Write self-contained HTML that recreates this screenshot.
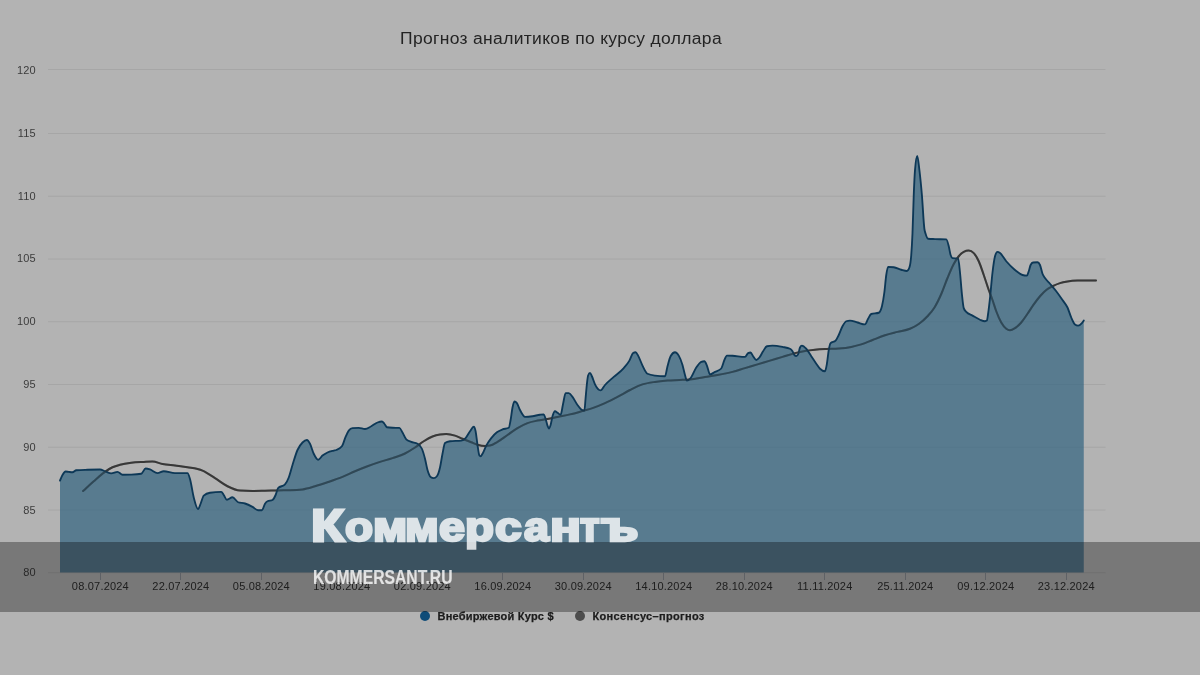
<!DOCTYPE html>
<html><head><meta charset="utf-8">
<style>
html,body{margin:0;padding:0;}
body{width:1200px;height:675px;overflow:hidden;background:#b3b3b3;font-family:"Liberation Sans",sans-serif;position:relative;}
svg{position:absolute;left:0;top:0;}
.yl{position:absolute;right:1164.3px;font-size:11px;color:#3c3c3c;filter:grayscale(1);line-height:12px;height:12px;letter-spacing:0.1px;white-space:nowrap;}
.xl{filter:grayscale(1);position:absolute;top:580px;width:80px;margin-left:-40px;text-align:center;font-size:11px;color:#2e2e2e;line-height:12px;letter-spacing:0.2px;white-space:nowrap;}
.title{filter:grayscale(1);position:absolute;left:261px;width:600px;top:29px;text-align:center;font-size:16px;line-height:20px;color:#242424;letter-spacing:0.3px;transform:scaleX(1.092);white-space:nowrap;}
.banner{position:absolute;left:0;top:542px;width:1200px;height:70px;background:rgba(0,0,0,0.33);}
.leg{filter:grayscale(1);position:absolute;top:610px;font-size:11px;font-weight:bold;line-height:12px;color:#1c1c1c;white-space:nowrap;-webkit-text-stroke:0.25px #1c1c1c;}
.logo{position:absolute;left:0;top:0;width:1200px;height:675px;opacity:0.8;}
.logo span{position:absolute;top:499.01px;font-size:45.5px;line-height:54px;font-weight:bold;color:#fff;white-space:nowrap;transform-origin:0 43.59px;-webkit-text-stroke:2.8px #fff;}
.site{position:absolute;left:313.3px;top:566px;font-size:19.5px;line-height:22px;font-weight:bold;color:#fff;opacity:0.8;white-space:nowrap;transform-origin:0 0;transform:scaleX(0.805);-webkit-text-stroke:0.15px #fff;}
</style></head><body>
<svg width="1200" height="675" viewBox="0 0 1200 675">
<g stroke="#a6a6a6" stroke-width="1" fill="none">
<path d="M48 69.5H1105.5M48 133.5H1105.5M48 196.25H1105.5M48 259.0H1105.5M48 321.75H1105.5M48 384.5H1105.5M48 447.25H1105.5M48 510.0H1105.5M48 572.75H1105.5"/>
</g>
<g stroke="rgba(95,105,120,0.45)" stroke-width="1" fill="none">
<path d="M100.5 573v7M180.5 573v7M261.5 573v7M341.5 573v7M422.5 573v7M502.5 573v7M583.5 573v7M663.5 573v7M744.5 573v7M824.5 573v7M905.5 573v7M985.5 573v7M1066.5 573v7"/>
</g>
<path fill="none" stroke="#383838" stroke-width="2" stroke-linejoin="round" stroke-linecap="round" d="M83.10 491.00C86.65 487.75 90.20 484.35 93.75 481.25C97.50 477.97 101.25 474.54 105.00 471.90C107.50 470.14 110.00 468.44 112.50 467.25C115.00 466.06 117.50 465.43 120.00 464.75C123.75 463.73 127.50 463.22 131.25 462.75C135.42 462.23 139.58 462.13 143.75 461.90C146.67 461.74 149.58 461.50 152.50 461.50C155.83 461.50 159.17 463.35 162.50 464.00C166.67 464.82 170.83 465.06 175.00 465.60C179.17 466.14 183.33 466.53 187.50 467.25C192.50 468.12 197.50 468.46 202.50 470.60C206.67 472.39 210.83 475.49 215.00 478.10C219.17 480.71 223.33 484.17 227.50 486.25C231.67 488.33 235.83 490.33 240.00 490.60C244.17 490.87 248.33 491.00 252.50 491.00C256.67 491.00 260.83 490.85 265.00 490.75C269.17 490.65 273.33 490.48 277.50 490.40C281.67 490.32 285.83 490.35 290.00 490.25C294.17 490.15 298.33 489.97 302.50 489.40C306.67 488.83 310.83 487.44 315.00 486.25C319.17 485.06 323.33 483.65 327.50 482.25C332.50 480.57 337.50 478.94 342.50 476.90C346.67 475.20 350.83 473.02 355.00 471.25C359.17 469.48 363.33 467.81 367.50 466.25C371.67 464.69 375.83 463.26 380.00 461.90C384.17 460.54 388.33 459.50 392.50 458.10C396.67 456.70 400.83 455.57 405.00 453.50C408.33 451.84 411.67 449.70 415.00 447.50C417.92 445.57 420.83 443.08 423.75 441.25C426.67 439.42 429.58 437.65 432.50 436.50C435.00 435.51 437.50 434.90 440.00 434.50C442.08 434.17 444.17 434.00 446.25 434.00C449.17 434.00 452.08 434.69 455.00 435.60C457.50 436.38 460.00 437.72 462.50 438.75C465.42 439.95 468.33 441.08 471.25 442.25C473.33 443.08 475.42 444.14 477.50 444.75C480.00 445.48 482.50 446.00 485.00 446.00C486.67 446.00 488.33 445.87 490.00 445.60C492.50 445.20 495.00 443.34 497.50 441.90C500.83 439.97 504.17 437.30 507.50 435.00C510.83 432.70 514.17 430.08 517.50 428.10C520.83 426.12 524.17 424.35 527.50 423.10C530.83 421.85 534.17 421.28 537.50 420.60C540.83 419.92 544.17 419.62 547.50 419.00C550.83 418.38 554.17 417.59 557.50 416.90C561.67 416.04 565.83 415.38 570.00 414.40C574.17 413.42 578.33 412.18 582.50 411.00C585.83 410.06 589.17 409.23 592.50 408.10C596.67 406.69 600.83 404.97 605.00 403.10C609.17 401.23 613.33 399.08 617.50 396.90C621.67 394.72 625.83 392.08 630.00 390.00C634.17 387.92 638.33 385.75 642.50 384.40C646.67 383.05 650.83 382.53 655.00 381.90C659.17 381.27 663.33 380.92 667.50 380.60C671.67 380.28 675.83 380.23 680.00 380.00C683.33 379.82 686.67 379.74 690.00 379.40C695.00 378.89 700.00 377.69 705.00 376.90C709.17 376.24 713.33 375.74 717.50 375.00C722.50 374.12 727.50 373.20 732.50 371.90C736.67 370.82 740.83 369.35 745.00 368.10C749.17 366.85 753.33 365.65 757.50 364.40C761.67 363.15 765.83 361.85 770.00 360.60C774.17 359.35 778.33 358.15 782.50 356.90C786.67 355.65 790.83 354.15 795.00 353.10C798.33 352.26 801.67 351.56 805.00 351.00C808.33 350.44 811.67 350.08 815.00 349.75C818.75 349.38 822.50 349.20 826.25 349.00C830.42 348.77 834.58 348.83 838.75 348.50C842.92 348.17 847.08 347.72 851.25 346.90C854.58 346.25 857.92 345.45 861.25 344.40C865.00 343.21 868.75 341.45 872.50 340.00C876.67 338.39 880.83 336.60 885.00 335.25C889.17 333.90 893.33 332.98 897.50 331.90C901.67 330.82 905.83 330.51 910.00 328.75C912.92 327.52 915.83 326.08 918.75 324.00C921.67 321.92 924.58 319.42 927.50 316.25C929.83 313.71 932.17 311.31 934.50 307.50C936.75 303.83 939.00 299.15 941.25 294.00C943.33 289.23 945.42 283.00 947.50 278.00C949.58 273.00 951.67 267.87 953.75 264.00C955.42 260.91 957.08 258.27 958.75 256.25C960.42 254.23 962.08 252.77 963.75 251.90C965.42 251.03 967.08 250.60 968.75 250.60C970.42 250.60 972.08 251.43 973.75 253.10C975.42 254.77 977.08 257.60 978.75 261.25C980.42 264.90 982.08 270.21 983.75 275.00C985.42 279.79 987.08 285.32 988.75 290.00C990.00 293.51 991.25 296.46 992.50 300.00C993.75 303.54 995.00 307.90 996.25 311.25C997.92 315.71 999.58 319.58 1001.25 322.50C1002.92 325.42 1004.58 327.49 1006.25 328.75C1007.50 329.70 1008.75 330.20 1010.00 330.20C1011.67 330.20 1013.33 329.15 1015.00 328.10C1017.08 326.78 1019.17 324.89 1021.25 322.50C1023.33 320.11 1025.42 316.77 1027.50 313.75C1029.58 310.73 1031.67 307.32 1033.75 304.40C1035.83 301.48 1037.92 298.65 1040.00 296.25C1042.08 293.85 1044.17 291.67 1046.25 290.00C1048.33 288.33 1050.42 287.33 1052.50 286.25C1055.00 284.95 1057.50 283.89 1060.00 283.10C1062.50 282.31 1065.00 281.90 1067.50 281.50C1070.83 280.97 1074.17 280.71 1077.50 280.60C1081.67 280.47 1085.83 280.40 1090.00 280.40C1092.00 280.40 1094.00 280.40 1096.00 280.40"/>
<path fill="rgba(40,94,125,0.65)" d="M60.00 480.60C60.83 478.73 61.67 476.45 62.50 475.00C63.53 473.20 64.57 471.50 65.60 471.50C66.65 471.50 67.70 471.78 68.75 471.90C70.00 472.04 71.25 472.25 72.50 472.25C73.75 472.25 75.00 470.36 76.25 470.25C80.00 469.92 83.75 469.87 87.50 469.75C91.67 469.61 95.83 469.50 100.00 469.50C101.67 469.50 103.33 470.67 105.00 471.25C107.08 471.97 109.17 473.40 111.25 473.40C113.33 473.40 115.42 471.90 117.50 471.90C119.17 471.90 120.83 474.75 122.50 474.75C125.42 474.75 128.33 474.70 131.25 474.60C134.58 474.49 137.92 474.32 141.25 473.75C142.70 473.50 144.15 468.50 145.60 468.50C147.07 468.50 148.53 468.94 150.00 469.40C152.50 470.18 155.00 473.10 157.50 473.10C159.58 473.10 161.67 471.25 163.75 471.25C167.50 471.25 171.25 473.10 175.00 473.10C179.17 473.10 183.33 473.10 187.50 473.10C188.33 473.10 189.17 476.18 190.00 479.00C191.25 483.24 192.50 492.65 193.75 497.50C195.20 503.13 196.65 509.10 198.10 509.10C198.93 509.10 199.77 505.70 200.60 503.75C201.65 501.30 202.70 496.56 203.75 495.60C205.83 493.70 207.92 493.06 210.00 492.75C213.75 492.18 217.50 491.90 221.25 491.90C222.08 491.90 222.92 493.87 223.75 495.00C224.80 496.43 225.85 499.75 226.90 499.75C228.77 499.75 230.63 497.25 232.50 497.25C234.37 497.25 236.23 501.57 238.10 502.25C240.40 503.08 242.70 502.78 245.00 503.50C247.50 504.28 250.00 505.56 252.50 506.90C254.37 507.90 256.23 510.25 258.10 510.25C259.37 510.25 260.63 510.25 261.90 510.25C262.93 510.25 263.97 505.29 265.00 503.75C265.83 502.51 266.67 501.67 267.50 501.25C269.17 500.42 270.83 500.83 272.50 500.00C273.53 499.48 274.57 497.32 275.60 495.00C276.43 493.13 277.27 488.99 278.10 488.10C280.40 485.63 282.70 486.87 285.00 484.40C286.25 483.06 287.50 480.73 288.75 477.50C290.00 474.27 291.25 468.99 292.50 465.00C294.17 459.68 295.83 453.75 297.50 450.00C299.17 446.25 300.83 444.17 302.50 442.50C303.97 441.03 305.43 440.00 306.90 440.00C307.93 440.00 308.97 441.82 310.00 443.75C311.25 446.09 312.50 451.16 313.75 453.75C315.20 456.75 316.65 459.75 318.10 459.75C319.57 459.75 321.03 456.76 322.50 455.60C324.17 454.28 325.83 453.30 327.50 452.50C329.58 451.50 331.67 451.14 333.75 450.60C334.58 450.38 335.42 450.31 336.25 450.00C338.13 449.30 340.02 448.75 341.90 446.25C343.13 444.61 344.37 439.67 345.60 436.90C346.65 434.55 347.70 432.00 348.75 430.60C350.00 428.93 351.25 428.18 352.50 428.10C354.58 427.97 356.67 427.90 358.75 427.90C360.83 427.90 362.92 429.00 365.00 429.00C367.08 429.00 369.17 427.33 371.25 426.25C373.33 425.17 375.42 423.29 377.50 422.50C378.97 421.94 380.43 421.50 381.90 421.50C382.73 421.50 383.57 422.79 384.40 423.75C385.23 424.71 386.07 427.10 386.90 427.25C388.77 427.58 390.63 427.67 392.50 427.75C394.80 427.85 397.10 427.80 399.40 427.90C400.43 427.94 401.47 430.80 402.50 432.50C403.75 434.56 405.00 438.15 406.25 439.40C407.92 441.07 409.58 441.22 411.25 441.90C413.33 442.75 415.42 442.52 417.50 443.75C418.97 444.62 420.43 445.42 421.90 448.75C422.93 451.10 423.97 454.69 425.00 458.75C425.83 462.03 426.67 467.10 427.50 470.00C428.53 473.60 429.57 476.11 430.60 476.90C431.65 477.70 432.70 478.10 433.75 478.10C434.80 478.10 435.85 477.48 436.90 476.25C437.93 475.04 438.97 471.95 440.00 467.50C440.83 463.91 441.67 457.82 442.50 453.75C443.33 449.68 444.17 443.72 445.00 443.10C446.67 441.87 448.33 441.44 450.00 441.25C453.75 440.82 457.50 441.03 461.25 440.60C462.70 440.43 464.15 439.64 465.60 438.10C467.07 436.54 468.53 433.25 470.00 431.25C471.25 429.54 472.50 426.75 473.75 426.75C474.37 426.75 474.98 428.24 475.60 431.20C476.23 434.24 476.87 440.95 477.50 445.00C478.13 449.05 478.77 454.71 479.40 455.50C479.80 456.00 480.20 456.25 480.60 456.25C481.23 456.25 481.87 454.77 482.50 453.75C483.75 451.74 485.00 447.96 486.25 445.60C487.92 442.46 489.58 440.24 491.25 438.10C493.13 435.69 495.02 433.70 496.90 432.25C498.77 430.81 500.63 430.13 502.50 429.40C504.58 428.58 506.67 428.85 508.75 427.75C509.37 427.42 509.98 423.31 510.60 420.00C511.23 416.60 511.87 410.58 512.50 407.50C513.13 404.42 513.77 401.50 514.40 401.50C515.23 401.50 516.07 402.03 516.90 403.10C517.93 404.42 518.97 408.03 520.00 410.00C521.67 413.17 523.33 416.90 525.00 416.90C527.50 416.90 530.00 416.61 532.50 416.25C535.00 415.89 537.50 415.07 540.00 414.75C541.25 414.59 542.50 414.40 543.75 414.40C544.37 414.40 544.98 416.92 545.60 418.75C546.23 420.63 546.87 423.91 547.50 425.60C548.00 426.94 548.50 428.50 549.00 428.50C549.53 428.50 550.07 426.76 550.60 425.00C551.23 422.91 551.87 418.45 552.50 416.25C553.33 413.35 554.17 411.25 555.00 411.25C555.83 411.25 556.67 412.23 557.50 412.75C558.53 413.39 559.57 414.75 560.60 414.75C561.43 414.75 562.27 407.36 563.10 403.75C563.93 400.14 564.77 393.10 565.60 393.10C566.65 393.10 567.70 393.10 568.75 393.10C570.00 393.10 571.25 395.31 572.50 396.90C574.17 399.02 575.83 402.73 577.50 405.00C578.75 406.71 580.00 408.53 581.25 409.40C582.30 410.13 583.35 410.50 584.40 410.50C584.80 410.50 585.20 402.23 585.60 398.00C586.03 393.41 586.47 387.84 586.90 384.00C587.30 380.46 587.70 376.59 588.10 375.50C588.73 373.77 589.37 372.90 590.00 372.90C590.63 372.90 591.27 374.92 591.90 376.25C592.93 378.41 593.97 382.26 595.00 384.40C596.87 388.27 598.73 390.40 600.60 390.40C602.07 390.40 603.53 386.65 605.00 385.00C607.92 381.71 610.83 379.54 613.75 376.90C617.08 373.89 620.42 371.99 623.75 368.10C625.63 365.90 627.52 363.90 629.40 360.60C630.63 358.44 631.87 353.94 633.10 353.10C633.93 352.53 634.77 352.25 635.60 352.25C636.43 352.25 637.27 354.20 638.10 355.60C639.57 358.06 641.03 362.71 642.50 365.60C644.17 368.89 645.83 372.93 647.50 373.75C650.00 374.98 652.50 375.28 655.00 375.60C658.33 376.03 661.67 376.25 665.00 376.25C665.83 376.25 666.67 369.30 667.50 366.25C668.53 362.47 669.57 358.13 670.60 356.25C672.07 353.58 673.53 352.25 675.00 352.25C676.25 352.25 677.50 353.48 678.75 355.60C680.00 357.73 681.25 360.75 682.50 365.00C683.33 367.84 684.17 372.17 685.00 375.00C685.63 377.15 686.27 380.60 686.90 380.60C688.13 380.60 689.37 379.52 690.60 378.10C692.48 375.93 694.37 370.28 696.25 367.50C697.92 365.04 699.58 362.59 701.25 361.90C702.30 361.47 703.35 361.25 704.40 361.25C705.23 361.25 706.07 363.74 706.90 365.60C707.93 367.90 708.97 374.40 710.00 374.40C711.67 374.40 713.33 372.77 715.00 371.90C717.08 370.82 719.17 370.77 721.25 368.50C722.30 367.36 723.35 362.28 724.40 360.00C725.23 358.19 726.07 355.60 726.90 355.60C728.77 355.60 730.63 355.66 732.50 355.75C736.67 355.95 740.83 356.90 745.00 356.90C746.03 356.90 747.07 353.60 748.10 353.10C748.93 352.70 749.77 352.50 750.60 352.50C751.43 352.50 752.27 355.11 753.10 356.25C754.15 357.68 755.20 360.00 756.25 360.00C757.30 360.00 758.35 358.77 759.40 357.50C760.63 356.01 761.87 353.11 763.10 351.25C764.37 349.34 765.63 346.54 766.90 346.25C768.77 345.82 770.63 345.60 772.50 345.60C775.83 345.60 779.17 346.24 782.50 346.90C785.00 347.39 787.50 347.52 790.00 348.75C790.83 349.16 791.67 349.96 792.50 351.25C793.13 352.23 793.77 354.32 794.40 355.00C795.02 355.67 795.63 356.00 796.25 356.00C796.87 356.00 797.48 355.47 798.10 354.40C798.73 353.30 799.37 348.77 800.00 347.50C800.63 346.23 801.27 345.60 801.90 345.60C803.35 345.60 804.80 347.18 806.25 348.75C807.92 350.56 809.58 353.75 811.25 356.25C812.92 358.75 814.58 361.41 816.25 363.75C817.50 365.51 818.75 367.53 820.00 368.75C821.67 370.38 823.33 371.25 825.00 371.25C825.63 371.25 826.27 367.37 826.90 363.75C827.52 360.23 828.13 353.44 828.75 350.00C829.37 346.56 829.98 343.72 830.60 343.10C832.27 341.43 833.93 342.27 835.60 340.60C836.65 339.55 837.70 337.13 838.75 335.00C840.00 332.46 841.25 328.54 842.50 326.25C843.75 323.96 845.00 321.68 846.25 321.25C847.50 320.82 848.75 320.60 850.00 320.60C852.50 320.60 855.00 321.87 857.50 322.50C860.00 323.13 862.50 324.40 865.00 324.40C866.03 324.40 867.07 320.47 868.10 318.75C869.15 317.00 870.20 314.35 871.25 314.00C873.75 313.17 876.25 313.58 878.75 312.75C879.83 312.39 880.92 310.50 882.00 306.00C882.80 302.68 883.60 298.18 884.40 292.00C885.02 287.23 885.63 279.18 886.25 275.00C886.87 270.82 887.48 266.90 888.10 266.90C889.98 266.90 891.87 267.02 893.75 267.25C896.25 267.56 898.75 269.08 901.25 269.75C903.13 270.26 905.02 271.00 906.90 271.00C907.73 271.00 908.57 269.83 909.40 267.50C910.02 265.77 910.63 263.16 911.25 255.00C911.67 249.49 912.08 243.00 912.50 233.00C912.92 223.00 913.33 205.50 913.75 195.00C914.17 184.50 914.58 175.19 915.00 170.00C915.75 160.67 916.50 156.00 917.25 156.00C917.97 156.00 918.68 164.18 919.40 170.00C920.23 176.77 921.07 185.17 921.90 195.00C922.73 204.83 923.57 223.10 924.40 229.00C924.80 231.83 925.20 232.42 925.60 233.75C926.43 236.52 927.27 238.67 928.10 238.75C930.40 238.98 932.70 239.00 935.00 239.10C938.75 239.26 942.50 239.20 946.25 239.40C947.08 239.44 947.92 243.01 948.75 246.25C949.37 248.64 949.98 253.03 950.60 255.00C951.23 257.03 951.87 258.01 952.50 258.10C954.37 258.37 956.23 258.23 958.10 258.50C958.73 258.59 959.37 266.58 960.00 272.50C960.63 278.42 961.27 288.02 961.90 294.00C962.52 299.82 963.13 306.23 963.75 308.10C964.58 310.63 965.42 310.91 966.25 311.90C968.33 314.37 970.42 314.40 972.50 315.60C975.00 317.04 977.50 318.75 980.00 319.75C981.67 320.42 983.33 321.25 985.00 321.25C985.63 321.25 986.27 321.03 986.90 320.60C987.30 320.33 987.70 316.43 988.10 313.75C988.73 309.50 989.37 303.77 990.00 298.00C990.83 290.40 991.67 279.46 992.50 272.50C993.33 265.54 994.17 259.15 995.00 256.25C995.83 253.35 996.67 251.90 997.50 251.90C998.33 251.90 999.17 252.50 1000.00 253.10C1002.08 254.59 1004.17 258.80 1006.25 261.25C1009.17 264.68 1012.08 267.61 1015.00 270.00C1017.50 272.05 1020.00 274.32 1022.50 275.00C1023.97 275.40 1025.43 275.60 1026.90 275.60C1027.52 275.60 1028.13 273.02 1028.75 271.25C1029.37 269.48 1029.98 266.23 1030.60 265.00C1031.43 263.33 1032.27 262.59 1033.10 262.50C1034.57 262.33 1036.03 262.25 1037.50 262.25C1038.33 262.25 1039.17 263.17 1040.00 265.00C1040.83 266.83 1041.67 271.57 1042.50 273.75C1043.33 275.93 1044.17 276.82 1045.00 278.10C1046.67 280.66 1048.33 281.81 1050.00 283.75C1052.08 286.17 1054.17 288.54 1056.25 291.25C1058.33 293.96 1060.42 296.97 1062.50 300.00C1064.17 302.43 1065.83 303.89 1067.50 307.50C1068.75 310.21 1070.00 314.68 1071.25 317.50C1072.50 320.32 1073.75 323.43 1075.00 324.40C1076.03 325.20 1077.07 325.60 1078.10 325.60C1079.37 325.60 1080.63 324.52 1081.90 323.10C1082.52 322.41 1083.13 321.43 1083.75 320.60L1083.75 572.5L60 572.5Z"/>
<path fill="none" stroke="#0d3857" stroke-width="1.85" stroke-linejoin="round" stroke-linecap="round" d="M60.00 480.60C60.83 478.73 61.67 476.45 62.50 475.00C63.53 473.20 64.57 471.50 65.60 471.50C66.65 471.50 67.70 471.78 68.75 471.90C70.00 472.04 71.25 472.25 72.50 472.25C73.75 472.25 75.00 470.36 76.25 470.25C80.00 469.92 83.75 469.87 87.50 469.75C91.67 469.61 95.83 469.50 100.00 469.50C101.67 469.50 103.33 470.67 105.00 471.25C107.08 471.97 109.17 473.40 111.25 473.40C113.33 473.40 115.42 471.90 117.50 471.90C119.17 471.90 120.83 474.75 122.50 474.75C125.42 474.75 128.33 474.70 131.25 474.60C134.58 474.49 137.92 474.32 141.25 473.75C142.70 473.50 144.15 468.50 145.60 468.50C147.07 468.50 148.53 468.94 150.00 469.40C152.50 470.18 155.00 473.10 157.50 473.10C159.58 473.10 161.67 471.25 163.75 471.25C167.50 471.25 171.25 473.10 175.00 473.10C179.17 473.10 183.33 473.10 187.50 473.10C188.33 473.10 189.17 476.18 190.00 479.00C191.25 483.24 192.50 492.65 193.75 497.50C195.20 503.13 196.65 509.10 198.10 509.10C198.93 509.10 199.77 505.70 200.60 503.75C201.65 501.30 202.70 496.56 203.75 495.60C205.83 493.70 207.92 493.06 210.00 492.75C213.75 492.18 217.50 491.90 221.25 491.90C222.08 491.90 222.92 493.87 223.75 495.00C224.80 496.43 225.85 499.75 226.90 499.75C228.77 499.75 230.63 497.25 232.50 497.25C234.37 497.25 236.23 501.57 238.10 502.25C240.40 503.08 242.70 502.78 245.00 503.50C247.50 504.28 250.00 505.56 252.50 506.90C254.37 507.90 256.23 510.25 258.10 510.25C259.37 510.25 260.63 510.25 261.90 510.25C262.93 510.25 263.97 505.29 265.00 503.75C265.83 502.51 266.67 501.67 267.50 501.25C269.17 500.42 270.83 500.83 272.50 500.00C273.53 499.48 274.57 497.32 275.60 495.00C276.43 493.13 277.27 488.99 278.10 488.10C280.40 485.63 282.70 486.87 285.00 484.40C286.25 483.06 287.50 480.73 288.75 477.50C290.00 474.27 291.25 468.99 292.50 465.00C294.17 459.68 295.83 453.75 297.50 450.00C299.17 446.25 300.83 444.17 302.50 442.50C303.97 441.03 305.43 440.00 306.90 440.00C307.93 440.00 308.97 441.82 310.00 443.75C311.25 446.09 312.50 451.16 313.75 453.75C315.20 456.75 316.65 459.75 318.10 459.75C319.57 459.75 321.03 456.76 322.50 455.60C324.17 454.28 325.83 453.30 327.50 452.50C329.58 451.50 331.67 451.14 333.75 450.60C334.58 450.38 335.42 450.31 336.25 450.00C338.13 449.30 340.02 448.75 341.90 446.25C343.13 444.61 344.37 439.67 345.60 436.90C346.65 434.55 347.70 432.00 348.75 430.60C350.00 428.93 351.25 428.18 352.50 428.10C354.58 427.97 356.67 427.90 358.75 427.90C360.83 427.90 362.92 429.00 365.00 429.00C367.08 429.00 369.17 427.33 371.25 426.25C373.33 425.17 375.42 423.29 377.50 422.50C378.97 421.94 380.43 421.50 381.90 421.50C382.73 421.50 383.57 422.79 384.40 423.75C385.23 424.71 386.07 427.10 386.90 427.25C388.77 427.58 390.63 427.67 392.50 427.75C394.80 427.85 397.10 427.80 399.40 427.90C400.43 427.94 401.47 430.80 402.50 432.50C403.75 434.56 405.00 438.15 406.25 439.40C407.92 441.07 409.58 441.22 411.25 441.90C413.33 442.75 415.42 442.52 417.50 443.75C418.97 444.62 420.43 445.42 421.90 448.75C422.93 451.10 423.97 454.69 425.00 458.75C425.83 462.03 426.67 467.10 427.50 470.00C428.53 473.60 429.57 476.11 430.60 476.90C431.65 477.70 432.70 478.10 433.75 478.10C434.80 478.10 435.85 477.48 436.90 476.25C437.93 475.04 438.97 471.95 440.00 467.50C440.83 463.91 441.67 457.82 442.50 453.75C443.33 449.68 444.17 443.72 445.00 443.10C446.67 441.87 448.33 441.44 450.00 441.25C453.75 440.82 457.50 441.03 461.25 440.60C462.70 440.43 464.15 439.64 465.60 438.10C467.07 436.54 468.53 433.25 470.00 431.25C471.25 429.54 472.50 426.75 473.75 426.75C474.37 426.75 474.98 428.24 475.60 431.20C476.23 434.24 476.87 440.95 477.50 445.00C478.13 449.05 478.77 454.71 479.40 455.50C479.80 456.00 480.20 456.25 480.60 456.25C481.23 456.25 481.87 454.77 482.50 453.75C483.75 451.74 485.00 447.96 486.25 445.60C487.92 442.46 489.58 440.24 491.25 438.10C493.13 435.69 495.02 433.70 496.90 432.25C498.77 430.81 500.63 430.13 502.50 429.40C504.58 428.58 506.67 428.85 508.75 427.75C509.37 427.42 509.98 423.31 510.60 420.00C511.23 416.60 511.87 410.58 512.50 407.50C513.13 404.42 513.77 401.50 514.40 401.50C515.23 401.50 516.07 402.03 516.90 403.10C517.93 404.42 518.97 408.03 520.00 410.00C521.67 413.17 523.33 416.90 525.00 416.90C527.50 416.90 530.00 416.61 532.50 416.25C535.00 415.89 537.50 415.07 540.00 414.75C541.25 414.59 542.50 414.40 543.75 414.40C544.37 414.40 544.98 416.92 545.60 418.75C546.23 420.63 546.87 423.91 547.50 425.60C548.00 426.94 548.50 428.50 549.00 428.50C549.53 428.50 550.07 426.76 550.60 425.00C551.23 422.91 551.87 418.45 552.50 416.25C553.33 413.35 554.17 411.25 555.00 411.25C555.83 411.25 556.67 412.23 557.50 412.75C558.53 413.39 559.57 414.75 560.60 414.75C561.43 414.75 562.27 407.36 563.10 403.75C563.93 400.14 564.77 393.10 565.60 393.10C566.65 393.10 567.70 393.10 568.75 393.10C570.00 393.10 571.25 395.31 572.50 396.90C574.17 399.02 575.83 402.73 577.50 405.00C578.75 406.71 580.00 408.53 581.25 409.40C582.30 410.13 583.35 410.50 584.40 410.50C584.80 410.50 585.20 402.23 585.60 398.00C586.03 393.41 586.47 387.84 586.90 384.00C587.30 380.46 587.70 376.59 588.10 375.50C588.73 373.77 589.37 372.90 590.00 372.90C590.63 372.90 591.27 374.92 591.90 376.25C592.93 378.41 593.97 382.26 595.00 384.40C596.87 388.27 598.73 390.40 600.60 390.40C602.07 390.40 603.53 386.65 605.00 385.00C607.92 381.71 610.83 379.54 613.75 376.90C617.08 373.89 620.42 371.99 623.75 368.10C625.63 365.90 627.52 363.90 629.40 360.60C630.63 358.44 631.87 353.94 633.10 353.10C633.93 352.53 634.77 352.25 635.60 352.25C636.43 352.25 637.27 354.20 638.10 355.60C639.57 358.06 641.03 362.71 642.50 365.60C644.17 368.89 645.83 372.93 647.50 373.75C650.00 374.98 652.50 375.28 655.00 375.60C658.33 376.03 661.67 376.25 665.00 376.25C665.83 376.25 666.67 369.30 667.50 366.25C668.53 362.47 669.57 358.13 670.60 356.25C672.07 353.58 673.53 352.25 675.00 352.25C676.25 352.25 677.50 353.48 678.75 355.60C680.00 357.73 681.25 360.75 682.50 365.00C683.33 367.84 684.17 372.17 685.00 375.00C685.63 377.15 686.27 380.60 686.90 380.60C688.13 380.60 689.37 379.52 690.60 378.10C692.48 375.93 694.37 370.28 696.25 367.50C697.92 365.04 699.58 362.59 701.25 361.90C702.30 361.47 703.35 361.25 704.40 361.25C705.23 361.25 706.07 363.74 706.90 365.60C707.93 367.90 708.97 374.40 710.00 374.40C711.67 374.40 713.33 372.77 715.00 371.90C717.08 370.82 719.17 370.77 721.25 368.50C722.30 367.36 723.35 362.28 724.40 360.00C725.23 358.19 726.07 355.60 726.90 355.60C728.77 355.60 730.63 355.66 732.50 355.75C736.67 355.95 740.83 356.90 745.00 356.90C746.03 356.90 747.07 353.60 748.10 353.10C748.93 352.70 749.77 352.50 750.60 352.50C751.43 352.50 752.27 355.11 753.10 356.25C754.15 357.68 755.20 360.00 756.25 360.00C757.30 360.00 758.35 358.77 759.40 357.50C760.63 356.01 761.87 353.11 763.10 351.25C764.37 349.34 765.63 346.54 766.90 346.25C768.77 345.82 770.63 345.60 772.50 345.60C775.83 345.60 779.17 346.24 782.50 346.90C785.00 347.39 787.50 347.52 790.00 348.75C790.83 349.16 791.67 349.96 792.50 351.25C793.13 352.23 793.77 354.32 794.40 355.00C795.02 355.67 795.63 356.00 796.25 356.00C796.87 356.00 797.48 355.47 798.10 354.40C798.73 353.30 799.37 348.77 800.00 347.50C800.63 346.23 801.27 345.60 801.90 345.60C803.35 345.60 804.80 347.18 806.25 348.75C807.92 350.56 809.58 353.75 811.25 356.25C812.92 358.75 814.58 361.41 816.25 363.75C817.50 365.51 818.75 367.53 820.00 368.75C821.67 370.38 823.33 371.25 825.00 371.25C825.63 371.25 826.27 367.37 826.90 363.75C827.52 360.23 828.13 353.44 828.75 350.00C829.37 346.56 829.98 343.72 830.60 343.10C832.27 341.43 833.93 342.27 835.60 340.60C836.65 339.55 837.70 337.13 838.75 335.00C840.00 332.46 841.25 328.54 842.50 326.25C843.75 323.96 845.00 321.68 846.25 321.25C847.50 320.82 848.75 320.60 850.00 320.60C852.50 320.60 855.00 321.87 857.50 322.50C860.00 323.13 862.50 324.40 865.00 324.40C866.03 324.40 867.07 320.47 868.10 318.75C869.15 317.00 870.20 314.35 871.25 314.00C873.75 313.17 876.25 313.58 878.75 312.75C879.83 312.39 880.92 310.50 882.00 306.00C882.80 302.68 883.60 298.18 884.40 292.00C885.02 287.23 885.63 279.18 886.25 275.00C886.87 270.82 887.48 266.90 888.10 266.90C889.98 266.90 891.87 267.02 893.75 267.25C896.25 267.56 898.75 269.08 901.25 269.75C903.13 270.26 905.02 271.00 906.90 271.00C907.73 271.00 908.57 269.83 909.40 267.50C910.02 265.77 910.63 263.16 911.25 255.00C911.67 249.49 912.08 243.00 912.50 233.00C912.92 223.00 913.33 205.50 913.75 195.00C914.17 184.50 914.58 175.19 915.00 170.00C915.75 160.67 916.50 156.00 917.25 156.00C917.97 156.00 918.68 164.18 919.40 170.00C920.23 176.77 921.07 185.17 921.90 195.00C922.73 204.83 923.57 223.10 924.40 229.00C924.80 231.83 925.20 232.42 925.60 233.75C926.43 236.52 927.27 238.67 928.10 238.75C930.40 238.98 932.70 239.00 935.00 239.10C938.75 239.26 942.50 239.20 946.25 239.40C947.08 239.44 947.92 243.01 948.75 246.25C949.37 248.64 949.98 253.03 950.60 255.00C951.23 257.03 951.87 258.01 952.50 258.10C954.37 258.37 956.23 258.23 958.10 258.50C958.73 258.59 959.37 266.58 960.00 272.50C960.63 278.42 961.27 288.02 961.90 294.00C962.52 299.82 963.13 306.23 963.75 308.10C964.58 310.63 965.42 310.91 966.25 311.90C968.33 314.37 970.42 314.40 972.50 315.60C975.00 317.04 977.50 318.75 980.00 319.75C981.67 320.42 983.33 321.25 985.00 321.25C985.63 321.25 986.27 321.03 986.90 320.60C987.30 320.33 987.70 316.43 988.10 313.75C988.73 309.50 989.37 303.77 990.00 298.00C990.83 290.40 991.67 279.46 992.50 272.50C993.33 265.54 994.17 259.15 995.00 256.25C995.83 253.35 996.67 251.90 997.50 251.90C998.33 251.90 999.17 252.50 1000.00 253.10C1002.08 254.59 1004.17 258.80 1006.25 261.25C1009.17 264.68 1012.08 267.61 1015.00 270.00C1017.50 272.05 1020.00 274.32 1022.50 275.00C1023.97 275.40 1025.43 275.60 1026.90 275.60C1027.52 275.60 1028.13 273.02 1028.75 271.25C1029.37 269.48 1029.98 266.23 1030.60 265.00C1031.43 263.33 1032.27 262.59 1033.10 262.50C1034.57 262.33 1036.03 262.25 1037.50 262.25C1038.33 262.25 1039.17 263.17 1040.00 265.00C1040.83 266.83 1041.67 271.57 1042.50 273.75C1043.33 275.93 1044.17 276.82 1045.00 278.10C1046.67 280.66 1048.33 281.81 1050.00 283.75C1052.08 286.17 1054.17 288.54 1056.25 291.25C1058.33 293.96 1060.42 296.97 1062.50 300.00C1064.17 302.43 1065.83 303.89 1067.50 307.50C1068.75 310.21 1070.00 314.68 1071.25 317.50C1072.50 320.32 1073.75 323.43 1075.00 324.40C1076.03 325.20 1077.07 325.60 1078.10 325.60C1079.37 325.60 1080.63 324.52 1081.90 323.10C1082.52 322.41 1083.13 321.43 1083.75 320.60"/>
<path fill="none" stroke="#383838" stroke-opacity="0.3" stroke-width="2" stroke-linejoin="round" stroke-linecap="round" d="M83.10 491.00C86.65 487.75 90.20 484.35 93.75 481.25C97.50 477.97 101.25 474.54 105.00 471.90C107.50 470.14 110.00 468.44 112.50 467.25C115.00 466.06 117.50 465.43 120.00 464.75C123.75 463.73 127.50 463.22 131.25 462.75C135.42 462.23 139.58 462.13 143.75 461.90C146.67 461.74 149.58 461.50 152.50 461.50C155.83 461.50 159.17 463.35 162.50 464.00C166.67 464.82 170.83 465.06 175.00 465.60C179.17 466.14 183.33 466.53 187.50 467.25C192.50 468.12 197.50 468.46 202.50 470.60C206.67 472.39 210.83 475.49 215.00 478.10C219.17 480.71 223.33 484.17 227.50 486.25C231.67 488.33 235.83 490.33 240.00 490.60C244.17 490.87 248.33 491.00 252.50 491.00C256.67 491.00 260.83 490.85 265.00 490.75C269.17 490.65 273.33 490.48 277.50 490.40C281.67 490.32 285.83 490.35 290.00 490.25C294.17 490.15 298.33 489.97 302.50 489.40C306.67 488.83 310.83 487.44 315.00 486.25C319.17 485.06 323.33 483.65 327.50 482.25C332.50 480.57 337.50 478.94 342.50 476.90C346.67 475.20 350.83 473.02 355.00 471.25C359.17 469.48 363.33 467.81 367.50 466.25C371.67 464.69 375.83 463.26 380.00 461.90C384.17 460.54 388.33 459.50 392.50 458.10C396.67 456.70 400.83 455.57 405.00 453.50C408.33 451.84 411.67 449.70 415.00 447.50C417.92 445.57 420.83 443.08 423.75 441.25C426.67 439.42 429.58 437.65 432.50 436.50C435.00 435.51 437.50 434.90 440.00 434.50C442.08 434.17 444.17 434.00 446.25 434.00C449.17 434.00 452.08 434.69 455.00 435.60C457.50 436.38 460.00 437.72 462.50 438.75C465.42 439.95 468.33 441.08 471.25 442.25C473.33 443.08 475.42 444.14 477.50 444.75C480.00 445.48 482.50 446.00 485.00 446.00C486.67 446.00 488.33 445.87 490.00 445.60C492.50 445.20 495.00 443.34 497.50 441.90C500.83 439.97 504.17 437.30 507.50 435.00C510.83 432.70 514.17 430.08 517.50 428.10C520.83 426.12 524.17 424.35 527.50 423.10C530.83 421.85 534.17 421.28 537.50 420.60C540.83 419.92 544.17 419.62 547.50 419.00C550.83 418.38 554.17 417.59 557.50 416.90C561.67 416.04 565.83 415.38 570.00 414.40C574.17 413.42 578.33 412.18 582.50 411.00C585.83 410.06 589.17 409.23 592.50 408.10C596.67 406.69 600.83 404.97 605.00 403.10C609.17 401.23 613.33 399.08 617.50 396.90C621.67 394.72 625.83 392.08 630.00 390.00C634.17 387.92 638.33 385.75 642.50 384.40C646.67 383.05 650.83 382.53 655.00 381.90C659.17 381.27 663.33 380.92 667.50 380.60C671.67 380.28 675.83 380.23 680.00 380.00C683.33 379.82 686.67 379.74 690.00 379.40C695.00 378.89 700.00 377.69 705.00 376.90C709.17 376.24 713.33 375.74 717.50 375.00C722.50 374.12 727.50 373.20 732.50 371.90C736.67 370.82 740.83 369.35 745.00 368.10C749.17 366.85 753.33 365.65 757.50 364.40C761.67 363.15 765.83 361.85 770.00 360.60C774.17 359.35 778.33 358.15 782.50 356.90C786.67 355.65 790.83 354.15 795.00 353.10C798.33 352.26 801.67 351.56 805.00 351.00C808.33 350.44 811.67 350.08 815.00 349.75C818.75 349.38 822.50 349.20 826.25 349.00C830.42 348.77 834.58 348.83 838.75 348.50C842.92 348.17 847.08 347.72 851.25 346.90C854.58 346.25 857.92 345.45 861.25 344.40C865.00 343.21 868.75 341.45 872.50 340.00C876.67 338.39 880.83 336.60 885.00 335.25C889.17 333.90 893.33 332.98 897.50 331.90C901.67 330.82 905.83 330.51 910.00 328.75C912.92 327.52 915.83 326.08 918.75 324.00C921.67 321.92 924.58 319.42 927.50 316.25C929.83 313.71 932.17 311.31 934.50 307.50C936.75 303.83 939.00 299.15 941.25 294.00C943.33 289.23 945.42 283.00 947.50 278.00C949.58 273.00 951.67 267.87 953.75 264.00C955.42 260.91 957.08 258.27 958.75 256.25C960.42 254.23 962.08 252.77 963.75 251.90C965.42 251.03 967.08 250.60 968.75 250.60C970.42 250.60 972.08 251.43 973.75 253.10C975.42 254.77 977.08 257.60 978.75 261.25C980.42 264.90 982.08 270.21 983.75 275.00C985.42 279.79 987.08 285.32 988.75 290.00C990.00 293.51 991.25 296.46 992.50 300.00C993.75 303.54 995.00 307.90 996.25 311.25C997.92 315.71 999.58 319.58 1001.25 322.50C1002.92 325.42 1004.58 327.49 1006.25 328.75C1007.50 329.70 1008.75 330.20 1010.00 330.20C1011.67 330.20 1013.33 329.15 1015.00 328.10C1017.08 326.78 1019.17 324.89 1021.25 322.50C1023.33 320.11 1025.42 316.77 1027.50 313.75C1029.58 310.73 1031.67 307.32 1033.75 304.40C1035.83 301.48 1037.92 298.65 1040.00 296.25C1042.08 293.85 1044.17 291.67 1046.25 290.00C1048.33 288.33 1050.42 287.33 1052.50 286.25C1055.00 284.95 1057.50 283.89 1060.00 283.10C1062.50 282.31 1065.00 281.90 1067.50 281.50C1070.83 280.97 1074.17 280.71 1077.50 280.60C1081.67 280.47 1085.83 280.40 1090.00 280.40C1092.00 280.40 1094.00 280.40 1096.00 280.40"/>
<circle cx="425" cy="616" r="5" fill="#0f4c78"/>
<circle cx="580" cy="616" r="5" fill="#4d4d4d"/>
</svg>
<div class="yl" style="top:64.0px">120</div>
<div class="yl" style="top:126.8px">115</div>
<div class="yl" style="top:189.6px">110</div>
<div class="yl" style="top:252.4px">105</div>
<div class="yl" style="top:315.2px">100</div>
<div class="yl" style="top:378.0px">95</div>
<div class="yl" style="top:440.8px">90</div>
<div class="yl" style="top:503.6px">85</div>
<div class="yl" style="top:566.4px">80</div>
<div class="title">Прогноз аналитиков по курсу доллара</div>
<div class="xl" style="left:100.4px">08.07.2024</div>
<div class="xl" style="left:180.9px">22.07.2024</div>
<div class="xl" style="left:261.4px">05.08.2024</div>
<div class="xl" style="left:341.9px">19.08.2024</div>
<div class="xl" style="left:422.4px">02.09.2024</div>
<div class="xl" style="left:502.9px">16.09.2024</div>
<div class="xl" style="left:583.3px">30.09.2024</div>
<div class="xl" style="left:663.8px">14.10.2024</div>
<div class="xl" style="left:744.3px">28.10.2024</div>
<div class="xl" style="left:824.8px">11.11.2024</div>
<div class="xl" style="left:905.3px">25.11.2024</div>
<div class="xl" style="left:985.8px">09.12.2024</div>
<div class="xl" style="left:1066.3px">23.12.2024</div>
<div class="leg" style="left:437.5px;letter-spacing:0.22px">Внебиржевой Курс $</div>
<div class="leg" style="left:592.5px;letter-spacing:0.33px">Консенсус–прогноз</div>
<div class="banner"></div>
<div class="logo"><span style="left:310.79px;transform:scale(1.190,0.995)">К</span><span style="left:345.23px;transform:scale(1.009,0.887)">о</span><span style="left:372.75px;transform:scale(1.019,0.887)">м</span><span style="left:405.28px;transform:scale(1.002,0.887)">м</span><span style="left:438.53px;transform:scale(1.024,0.887)">е</span><span style="left:465.40px;transform:scale(1.042,0.887);clip-path:inset(-5px -5px 2.2px -5px)">р</span><span style="left:495.03px;transform:scale(1.052,0.887)">с</span><span style="left:523.67px;transform:scale(0.986,0.887)">а</span><span style="left:550.06px;transform:scale(1.129,0.887)">н</span><span style="left:580.20px;transform:scale(0.877,0.887)">т</span><span style="left:600.66px;transform:scale(1.130,0.887)">ъ</span></div>
<div class="site">KOMMERSANT.RU</div>
</body></html>
